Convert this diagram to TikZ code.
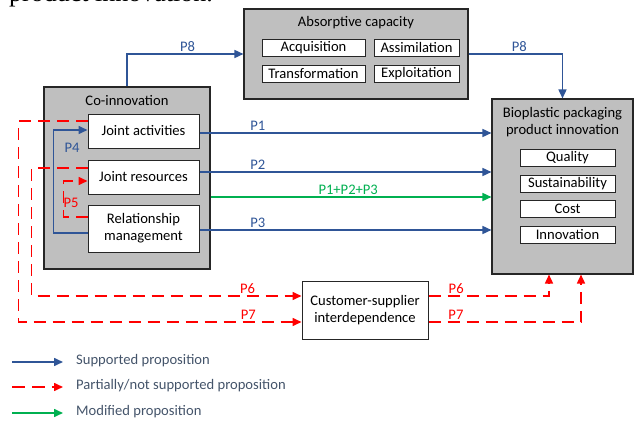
\documentclass[tikz,border=0pt]{standalone}
\usepackage{fontspec}
\setmainfont{Carlito}
\newfontfamily\captionserif{Liberation Serif}
\usetikzlibrary{arrows.meta,positioning}
\definecolor{supblue}{HTML}{2F5597}
\definecolor{legtext}{HTML}{44546A}
\definecolor{modgreen}{HTML}{00B050}
\tikzstyle{every node}=[font=\fontsize{14.6}{17}\selectfont]
\tikzstyle{outerbox}=[draw=black!85,fill=black!25,line width=1.1pt,inner sep=0pt]
\tikzstyle{innerbox}=[draw=black!85,fill=white,line width=1pt,inner sep=0pt,align=center]
\tikzstyle{supported}=[draw=supblue,line width=1.6pt,-{Triangle[length=9pt,width=8pt]}]
\tikzstyle{partial}=[draw=red,line width=1.6pt,dash pattern=on 12pt off 7pt,-{Triangle[length=9pt,width=8pt]}]
\tikzstyle{modified}=[draw=modgreen,line width=1.6pt,-{Triangle[length=9pt,width=8pt]}]
\tikzstyle{plabel}=[above,inner sep=2pt]

\begin{document}
\begin{tikzpicture}[x=1pt,y=-1pt]
  \useasboundingbox (0,0) rectangle (641,423);
  \node[anchor=base west,inner sep=0pt,font=\captionserif\fontsize{26}{28}\selectfont]
    (capt) at (9,1.5) {product innovation.};

  % absorptive capacity
  \node[outerbox,minimum width=224pt,minimum height=90pt] (absorb) at (356,54) {};
  \node (absorbt) at (356,23) {Absorptive capacity};
  \node[innerbox,minimum width=103pt,minimum height=17pt] (acq) at (313.5,47.5) {Acquisition};
  \node[innerbox,minimum width=85pt,minimum height=17pt] (assim) at (416.5,47.5) {Assimilation};
  \node[innerbox,minimum width=103pt,minimum height=17pt] (trans) at (313.5,73.5) {Transformation};
  \node[innerbox,minimum width=85pt,minimum height=17pt] (exploit) at (416.5,73.5) {Exploitation};

  % co-innovation
  \node[outerbox,minimum width=166pt,minimum height=182pt] (coinno) at (127,178) {};
  \node (coinnot) at (127,101) {Co-innovation};
  \node[innerbox,minimum width=111pt,minimum height=34pt] (ja) at (143.5,131) {Joint activities};
  \node[innerbox,minimum width=111pt,minimum height=34pt] (jr) at (143.5,177) {Joint resources};
  \node[innerbox,minimum width=111pt,minimum height=47pt] (rm) at (143.5,228.5) {Relationship\\management};

  % bioplastic packaging
  \node[outerbox,minimum width=141pt,minimum height=175pt] (bio) at (562.5,186.5) {};
  \node[align=center] (biot) at (562.5,122) {Bioplastic packaging\\product innovation};
  \node[innerbox,minimum width=95pt,minimum height=17pt] (qual) at (567.5,157.5) {Quality};
  \node[innerbox,minimum width=95pt,minimum height=17pt] (sust) at (567.5,183.5) {Sustainability};
  \node[innerbox,minimum width=95pt,minimum height=17pt] (cost) at (567.5,209) {Cost};
  \node[innerbox,minimum width=95pt,minimum height=17pt] (innov) at (567.5,234.5) {Innovation};

  % customer-supplier
  \node[innerbox,minimum width=126pt,minimum height=58pt] (cust) at (365,310) {Customer-supplier\\interdependence};

  % supported
  \draw[supported] (coinno.north) |- (absorb.west)
    node[plabel,text=supblue,pos=0.76] (p8a) {P8};
  \draw[supported] (absorb.east) -| (bio.north)
    node[plabel,text=supblue,pos=0.27] (p8b) {P8};
  \draw[supported] ([yshift=-2pt]ja.east) -- ([yshift=-2pt]ja.east -| bio.west)
    node[plabel,text=supblue,pos=0.2] (p1) {P1};
  \draw[supported] ([yshift=5pt]jr.east) -- ([yshift=5pt]jr.east -| bio.west)
    node[plabel,text=supblue,pos=0.2] (p2) {P2};
  \draw[supported] ([yshift=-1.5pt]rm.east) -- ([yshift=-1.5pt]rm.east -| bio.west)
    node[plabel,text=supblue,pos=0.2] (p3) {P3};
  \draw[supported] ([yshift=-4.5pt]rm.west) -- ++(-34,0) |- ([yshift=1pt]ja.west);
  \node[text=supblue] (p4) at (72,148) {P4};

  % modified
  \coordinate (gstart) at ([yshift=-19pt]coinno.east);
  \draw[modified] (gstart) -- (gstart -| bio.west)
    node[plabel,text=modgreen,pos=0.49] (p123) {P1+P2+P3};

  % partially / not supported
  \draw[partial] ([yshift=11.5pt]rm.west) -- ++(-24,0) |- ([yshift=-4pt]jr.west);
  \node[text=red] (p5) at (71,203) {P5};
  \draw[partial] ([yshift=9pt]jr.west) -- ++(-56,0) |- ([yshift=14pt]cust.west)
    node[plabel,text=red,pos=0.9] (p6a) {P6};
  \draw[partial] ([yshift=10pt]ja.west) -- ++(-69,0) |- ([yshift=-12pt]cust.west)
    node[plabel,text=red,pos=0.906] (p7a) {P7};
  \draw[partial] ([yshift=14pt]cust.east) -| ([xshift=-13.5pt]bio.south)
    node[plabel,text=red,pos=0.115] (p6b) {P6};
  \draw[partial] ([yshift=-12pt]cust.east) -| ([xshift=18.5pt]bio.south)
    node[plabel,text=red,pos=0.09] (p7b) {P7};

  % legend
  \coordinate (lsup) at (12,362);
  \coordinate (lpart) at (12,387);
  \coordinate (lmod) at (12,413);
  \node[anchor=west,inner sep=0pt,text=legtext] (legsup) at (76,361) {Supported proposition};
  \node[anchor=west,inner sep=0pt,text=legtext] (legpart) at (76,386) {Partially/not supported proposition};
  \node[anchor=west,inner sep=0pt,text=legtext] (legmod) at (76,412) {Modified proposition};
  \draw[supported] (lsup) -- (lsup -| 63,0);
  \draw[partial,dash pattern=on 13pt off 7pt] (lpart) -- (lpart -| 63,0);
  \draw[modified] (lmod) -- (lmod -| 63,0);
\end{tikzpicture}
\end{document}
